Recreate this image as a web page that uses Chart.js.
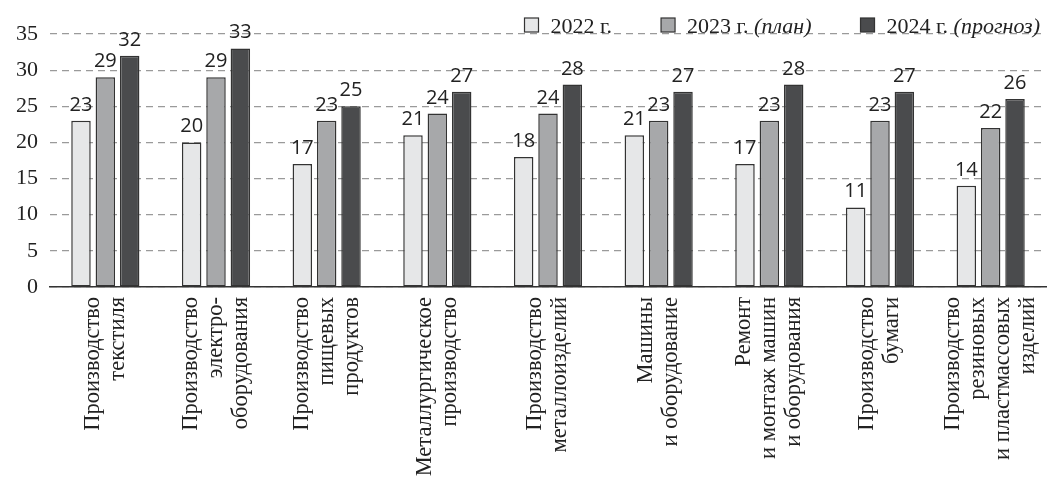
<!DOCTYPE html>
<html>
<head>
<meta charset="utf-8">
<script src="https://cdn.jsdelivr.net/npm/chart.js@4/dist/chart.umd.min.js"></script>
<style>
  html, body { margin: 0; background: #fff; }
  #wrap { width: 1048px; height: 482px; }
</style>
</head>
<body>
<div id="wrap"><canvas id="chart"></canvas></div>
<script>
// data
const categories = [
  ['Производство', 'текстиля'],
  ['Производство', 'электро-', 'оборудования'],
  ['Производство', 'пищевых', 'продуктов'],
  ['Металлургическое', 'производство'],
  ['Производство', 'металлоизделий'],
  ['Машины', 'и оборудование'],
  ['Ремонт', 'и монтаж машин', 'и оборудования'],
  ['Производство', 'бумаги'],
  ['Производство', 'резиновых', 'и пластмассовых', 'изделий']
];
const values2022 = [23, 20, 17, 21, 18, 21, 17, 11, 14];
const values2023 = [29, 29, 23, 24, 24, 23, 23, 23, 22];
const values2024 = [32, 33, 25, 27, 28, 27, 28, 27, 26];
const seriesNames = ['2022 г.', '2023 г.', '2024 г.'];
const seriesNotes = ['', '(план)', '(прогноз)'];
const yMax = 35;
const yStep = 5;

const colors = ['#e6e7e8', '#a7a8aa', '#4a4b4d'];
const serif = '"Liberation Serif", "DejaVu Serif", serif';

// value labels above bars
const barValues = {
  id: 'barValues',
  afterDatasetsDraw(chart) {
    const ctx = chart.ctx;
    ctx.save();
    ctx.font = '20px "Open Sans", sans-serif';
    ctx.fillStyle = '#222';
    ctx.textAlign = 'center';
    ctx.textBaseline = 'alphabetic';
    chart.data.datasets.forEach((ds, i) => {
      chart.getDatasetMeta(i).data.forEach((bar, j) => {
        ctx.fillText(ds.data[j], bar.x, bar.y - 10);
      });
    });
    ctx.restore();
  }
};

// vertical multi-line category labels, centred on each tick
const categoryLabels = {
  id: 'categoryLabels',
  afterDraw(chart) {
    const ctx = chart.ctx;
    const xs = chart.scales.x;
    const lineH = 25;
    const top = chart.chartArea.bottom + 10;
    ctx.save();
    ctx.font = '22.5px ' + serif;
    ctx.fillStyle = '#222';
    ctx.textAlign = 'right';
    ctx.textBaseline = 'middle';
    categories.forEach((lines, i) => {
      const x = xs.getPixelForTick(i);
      ctx.save();
      ctx.translate(x, top);
      ctx.rotate(-Math.PI / 2);
      lines.forEach((line, k) => {
        ctx.fillText(line, 0, (k - (lines.length - 1) / 2) * lineH);
      });
      ctx.restore();
    });
    ctx.restore();
  }
};

// legend with italic notes
const notesLegend = {
  id: 'notesLegend',
  afterDraw(chart) {
    const ctx = chart.ctx;
    const normal = '22px ' + serif;
    const italic = 'italic 22px ' + serif;
    const box = 14, gap = 12, itemGap = 49, y = 25;
    ctx.save();
    const widths = seriesNames.map((name, i) => {
      ctx.font = normal;
      let w = ctx.measureText(name).width;
      if (seriesNotes[i]) {
        ctx.font = italic;
        w += ctx.measureText(' ' + seriesNotes[i]).width;
      }
      return w;
    });
    const total = widths.reduce((s, w) => s + box + gap + w, 0) + itemGap * (widths.length - 1);
    let x = chart.width - 8 - total;
    ctx.textBaseline = 'alphabetic';
    ctx.textAlign = 'left';
    seriesNames.forEach((name, i) => {
      ctx.fillStyle = colors[i];
      ctx.strokeStyle = '#333';
      ctx.lineWidth = 1.2;
      ctx.fillRect(x, y - box / 2, box, box);
      ctx.strokeRect(x, y - box / 2, box, box);
      let tx = x + box + gap;
      ctx.fillStyle = '#222';
      ctx.font = normal;
      ctx.fillText(name, tx, y + 8);
      if (seriesNotes[i]) {
        tx += ctx.measureText(name + ' ').width;
        ctx.font = italic;
        ctx.fillText(seriesNotes[i], tx, y + 8);
      }
      x += box + gap + widths[i] + itemGap;
    });
    ctx.restore();
  }
};

const datasets = [values2022, values2023, values2024].map((vals, i) => ({
  label: seriesNames[i],
  data: vals,
  backgroundColor: colors[i],
  borderColor: '#333',
  borderWidth: 1.5,
  borderSkipped: false,
  categoryPercentage: 0.66,
  barPercentage: 0.8
}));

new Chart(document.getElementById('chart'), {
  type: 'bar',
  data: { labels: categories, datasets },
  plugins: [barValues, categoryLabels, notesLegend],
  options: {
    responsive: true,
    maintainAspectRatio: false,
    animation: false,
    layout: { padding: { top: 34, right: 2, left: 0, bottom: 0 } },
    plugins: {
      legend: { display: false },
      tooltip: { enabled: false }
    },
    scales: {
      x: {
        grid: { display: false },
        border: { display: true, color: '#333', width: 1.5 },
        ticks: { display: false, autoSkip: false },
        afterFit(scale) {
          scale.height = 195;
          scale.paddingLeft = 0;
          scale.paddingRight = 0;
        }
      },
      y: {
        min: 0,
        max: yMax,
        grid: { color: '#9a9a9a', lineWidth: 1.2, drawTicks: false },
        border: { display: false, dash: [7, 5] },
        ticks: {
          stepSize: yStep,
          color: '#222',
          font: { family: serif, size: 22 },
          padding: 12
        },
        afterFit(scale) {
          scale.width = 50;
          scale.paddingTop = 0;
        }
      }
    }
  }
});
</script>
</body>
</html>
